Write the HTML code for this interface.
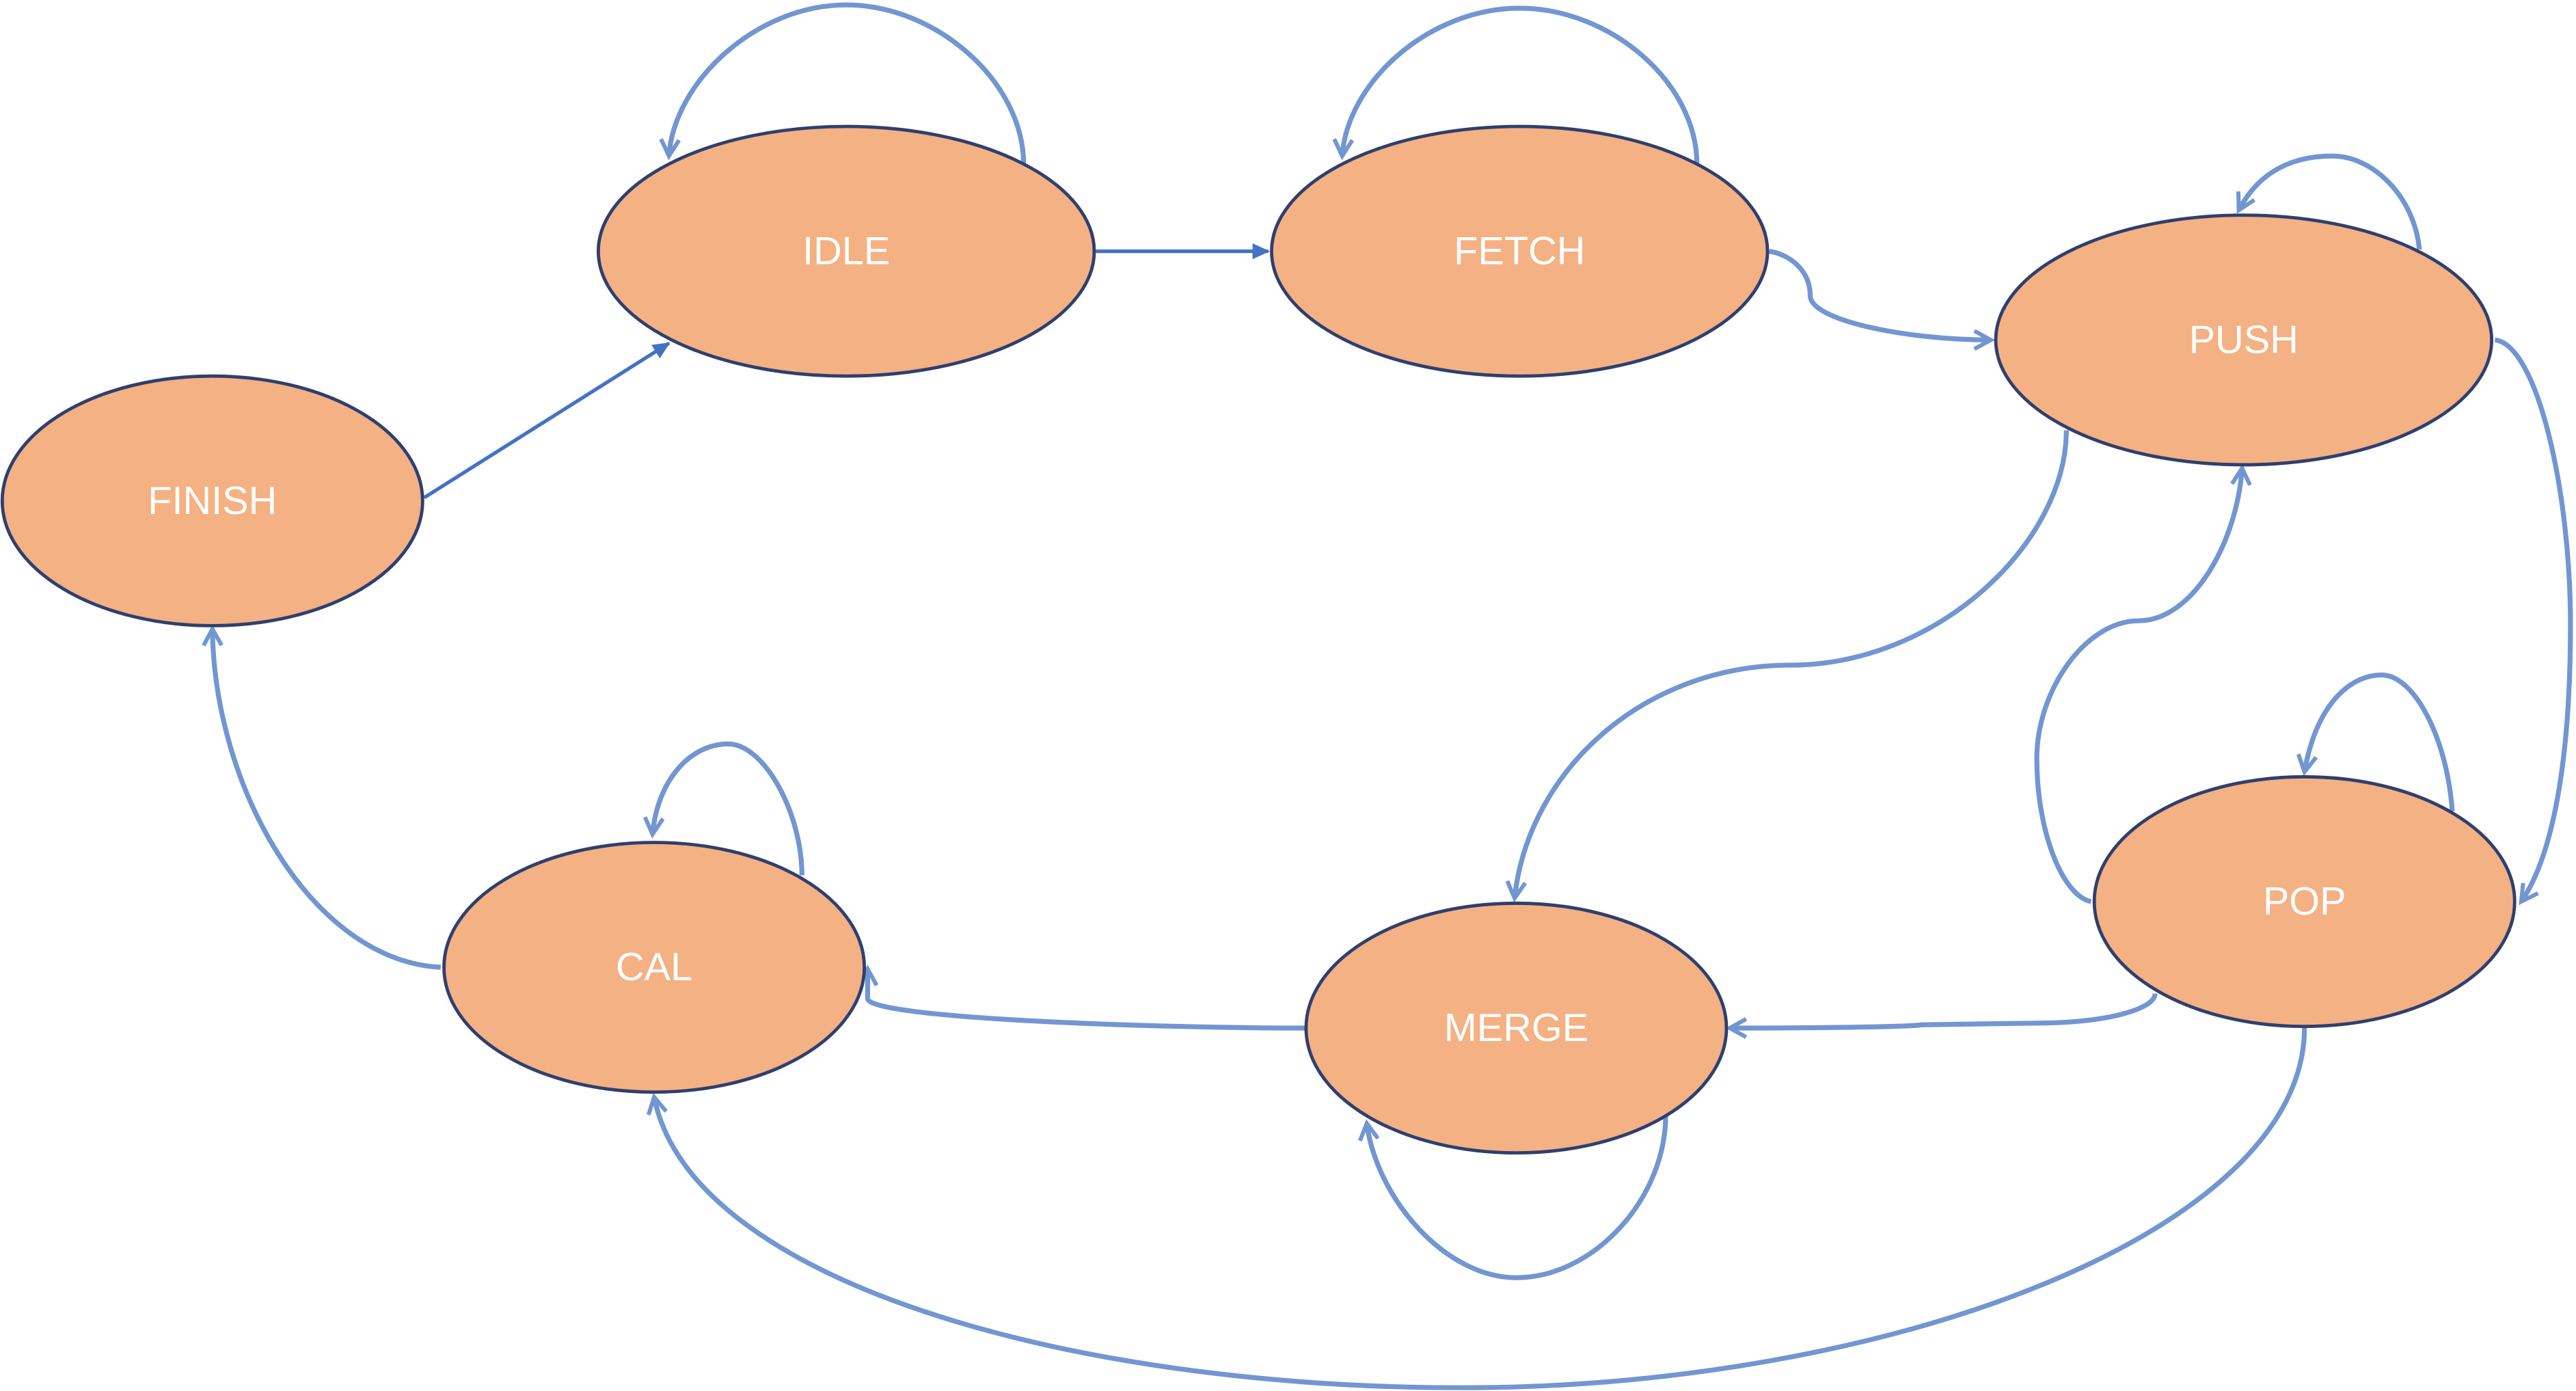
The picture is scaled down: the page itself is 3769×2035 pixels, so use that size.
<!DOCTYPE html>
<html><head><meta charset="utf-8"><style>
html,body{margin:0;padding:0;background:#fff;}
svg{display:block;}
</style></head><body>
<svg width="3769" height="2035" viewBox="0 0 1568 847" xmlns="http://www.w3.org/2000/svg">
<defs>
<marker id="a" viewBox="0 0 12 12" refX="10" refY="6" markerWidth="12" markerHeight="12" orient="auto" markerUnits="userSpaceOnUse" style="overflow:visible">
<path d="M0,0.5 L10,6 L0,11.5" fill="none" stroke="#7296D1" stroke-width="2.5"/>
</marker>
<marker id="b" viewBox="0 0 12 12" refX="11" refY="6" markerWidth="10" markerHeight="10" orient="auto" markerUnits="userSpaceOnUse" style="overflow:visible">
<path d="M0,1 L11,6 L0,11 Z" fill="#4472C4" stroke="#4472C4" stroke-width="1"/>
</marker>
<style>
.c{fill:none;stroke:#7296D1;stroke-width:3;marker-end:url(#a);}
.d{fill:none;stroke:#4472C4;stroke-width:2.2;marker-end:url(#b);}
.e{fill:#F4B183;stroke:#2F3F6F;stroke-width:2;}
.t{fill:#fff;font-family:"Liberation Sans",sans-serif;font-size:24px;text-anchor:middle;dominant-baseline:central;}
</style>
</defs>
<path class="c" d="M623,100 C623,50 570,3 515,3 C460,3 410,50 407,95"/>
<path class="c" d="M1033,100 C1033,50 980,5 925,5 C870,5 820,50 817,95"/>
<path class="d" d="M667,153 L772,153"/>
<path class="d" d="M258,303 L407,209"/>
<path class="c" d="M1077,153 C1090,155 1102,165 1102,180 C1102,195 1160,207 1212,207"/>
<path class="c" d="M1473,152 C1470,120 1445,95 1420,95 C1395,95 1375,105 1363,128"/>
<path class="c" d="M1519,207 C1545,210 1565,300 1565,380 C1565,460 1555,520 1535,549"/>
<path class="c" d="M1258,262 C1258,330 1180,405 1090,405 C1000,405 930,470 922,547"/>
<path class="c" d="M1273,549 C1255,545 1240,505 1240,462 C1240,420 1270,378 1302,378 C1335,378 1362,330 1365,285"/>
<path class="c" d="M1493,494 C1490,450 1470,411 1450,411 C1430,411 1410,430 1403,470"/>
<path class="c" d="M1312,605 C1312,615 1280,623 1240,623 L1170,624 C1165,625 1120,626 1053,626"/>
<path class="c" d="M1403,626 C1403,750 1150,845 890,845 C650,845 420,780 398,668"/>
<path class="c" d="M1014,679 C1014,730 970,778 923,778 C880,778 838,730 832,684"/>
<path class="c" d="M795,626 C700,626 528,620 528,608 L528,590"/>
<path class="c" d="M488,533 C488,495 465,453 443,453 C420,453 400,475 397,508"/>
<path class="c" d="M268,589 C190,585 130,480 129,383"/>
<ellipse class="e" cx="515" cy="153" rx="151" ry="76"/>
<ellipse class="e" cx="925" cy="153" rx="151" ry="76"/>
<ellipse class="e" cx="1366" cy="207" rx="151" ry="76"/>
<ellipse class="e" cx="129" cy="305" rx="128" ry="76"/>
<ellipse class="e" cx="398" cy="589" rx="128" ry="76"/>
<ellipse class="e" cx="923" cy="626" rx="128" ry="76"/>
<ellipse class="e" cx="1403" cy="549" rx="128" ry="76"/>
<text class="t" x="515" y="153">IDLE</text>
<text class="t" x="925" y="153">FETCH</text>
<text class="t" x="1366" y="207">PUSH</text>
<text class="t" x="129" y="305">FINISH</text>
<text class="t" x="398" y="589">CAL</text>
<text class="t" x="923" y="626">MERGE</text>
<text class="t" x="1403" y="549">POP</text>
</svg>
</body></html>
